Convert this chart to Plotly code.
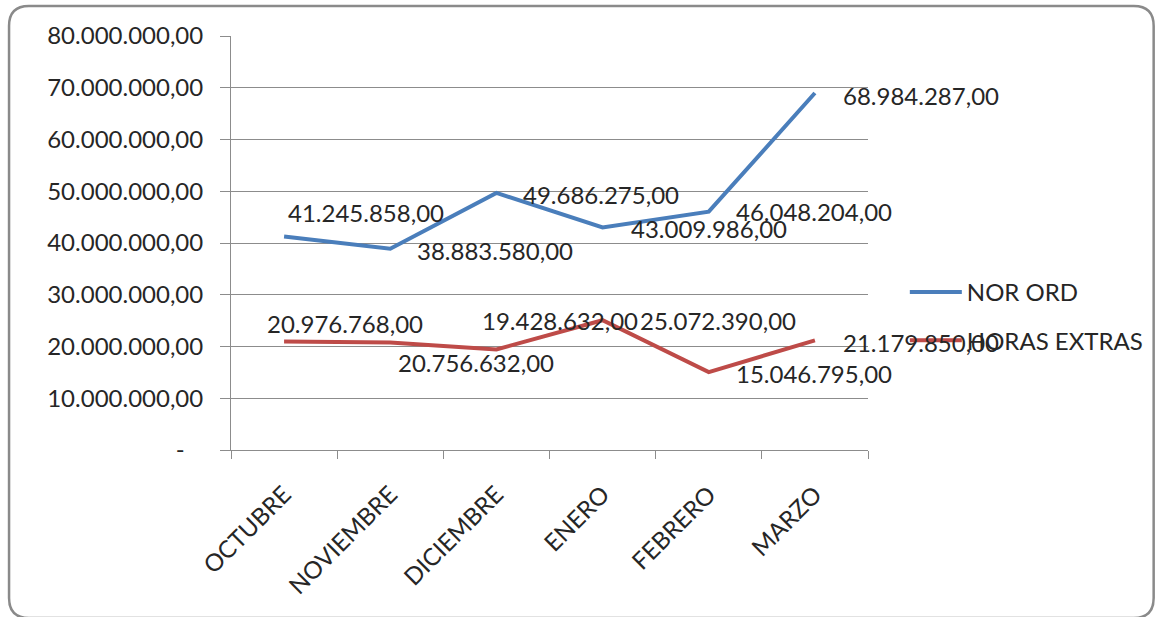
import plotly.graph_objects as go

# --- data -------------------------------------------------------------
meses = ["OCTUBRE", "NOVIEMBRE", "DICIEMBRE", "ENERO", "FEBRERO", "MARZO"]
nor_ord = [41245858, 38883580, 49686275, 43009986, 46048204, 68984287]
horas_extras = [20976768, 20756632, 19428632, 25072390, 15046795, 21179850]
y_ticks = [0, 10000000, 20000000, 30000000, 40000000, 50000000, 60000000, 70000000, 80000000]

# label offsets in pixels (dx right, dy down) from each point
off_nor = [(3, -24), (26, 2), (26, 2), (27, 1), (26, 0), (27, 2)]
off_hor = [(-18, -18), (7, 20), (-15, -29), (36, 0), (26, 1), (27, 2)]

BLUE = "#4A7EBB"
RED = "#BE4B48"
GRID = "#8C8C8C"
TXT = "#262626"
FONT = "Lato"
FS = 24

W, H = 1160, 617
ML, MR, MT, MB = 231, 289, 36, 167
PW, PH = W - ML - MR, H - MT - MB


def fmt(v):
    """Spanish number format: 41.245.858,00"""
    s = f"{v:,.2f}"
    return s.replace(",", "X").replace(".", ",").replace("X", ".")


def tick_text(v):
    return "-\u00a0\u00a0\u00a0" if v == 0 else fmt(v)


fig = go.Figure()
fig.add_trace(go.Scatter(
    x=meses, y=nor_ord, mode="lines", name="NOR ORD",
    line=dict(color=BLUE, width=4), legendgroup="a",
))
fig.add_trace(go.Scatter(
    x=meses, y=horas_extras, mode="lines", name="HORAS EXTRAS",
    line=dict(color=RED, width=4), legendgroup="b",
))

annotations = []
for series, offs in ((nor_ord, off_nor), (horas_extras, off_hor)):
    for m, v, (dx, dy) in zip(meses, series, offs):
        annotations.append(dict(
            x=m, y=v, xref="x", yref="y", text=fmt(v), showarrow=False,
            xanchor="left", yanchor="middle", xshift=dx, yshift=-dy,
            font=dict(family=FONT, size=FS, color=TXT), borderpad=0,
        ))


def px_x(px):
    return (px - ML) / PW


def px_y(py):
    return (H - MB - py) / PH


# rounded chart border, built in pixels then mapped to paper units
x0, y0, x1, y1, r = 8, 6, 1158, 618, 20
pts = [
    ("M", x0 + r, y0), ("L", x1 - r, y0), ("Q", x1, y0, x1, y0 + r),
    ("L", x1, y1 - r), ("Q", x1, y1, x1 - r, y1),
    ("L", x0 + r, y1), ("Q", x0, y1, x0, y1 - r),
    ("L", x0, y0 + r), ("Q", x0, y0, x0 + r, y0),
]
path = ""
for p in pts:
    cmd, coords = p[0], p[1:]
    pairs = [f"{px_x(coords[i]):.5f},{px_y(coords[i + 1]):.5f}" for i in range(0, len(coords), 2)]
    path += cmd + " ".join(pairs) + " "
path += "Z"

fig.update_layout(
    width=W, height=H,
    margin=dict(l=ML, r=MR, t=MT, b=MB, pad=0),
    paper_bgcolor="white", plot_bgcolor="white",
    font=dict(family=FONT, size=FS, color=TXT),
    showlegend=True,
    legend=dict(
        x=px_x(908), y=px_y(270), xanchor="left", yanchor="top",
        font=dict(family=FONT, size=FS, color=TXT),
        bgcolor="rgba(0,0,0,0)", tracegroupgap=14, itemwidth=52,
    ),
    annotations=annotations,
    shapes=[dict(type="path", xref="paper", yref="paper", path=path,
                 line=dict(color="#8A8A8A", width=2.5), layer="above")],
    xaxis=dict(
        type="category", range=[-0.5, 5.5], showgrid=False,
        showline=True, linecolor=GRID, linewidth=1,
        ticks="outside", ticklen=8, tickcolor=GRID, tickson="boundaries",
        tickangle=-45, tickfont=dict(family=FONT, size=FS, color=TXT),
        ticklabelstandoff=20,
    ),
    yaxis=dict(
        range=[0, 80000000], tickvals=y_ticks,
        ticktext=[tick_text(v) for v in y_ticks],
        showgrid=True, gridcolor=GRID, gridwidth=1,
        showline=True, linecolor=GRID, linewidth=1,
        ticks="outside", ticklen=10, tickcolor=GRID,
        tickfont=dict(family=FONT, size=FS, color=TXT),
        ticklabelstandoff=12, zeroline=False,
    ),
)

fig.write_html("out.html", config={"displayModeBar": False})
